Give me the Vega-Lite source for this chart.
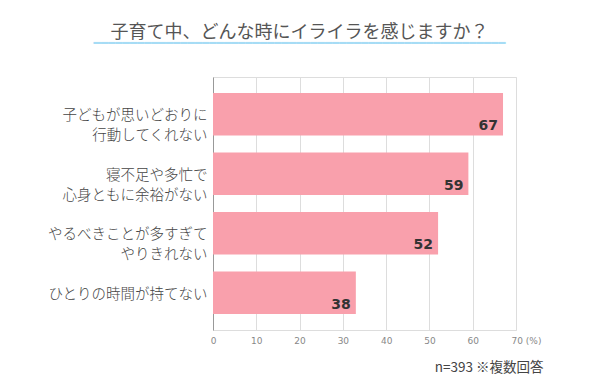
{
  "$schema": "https://vega.github.io/schema/vega-lite/v6.json",
  "width": 303,
  "height": 253,
  "autosize": "none",
  "padding": {"left": 213, "top": 77, "right": 84, "bottom": 56},
  "background": "white",
  "title": {
    "text": "子育て中、どんな時にイライラを感じますか？",
    "subtitle": "━━━━━━━━━━━━━━━━━━━━━━━━━━━━━━━━━━━━━━━━━━━━━━━━━━━━━━━━━",
    "anchor": "middle",
    "dx": -65,
    "offset": 28,
    "font": "Noto Sans CJK JP",
    "fontSize": 18,
    "fontWeight": "normal",
    "color": "#555555",
    "subtitleFont": "DejaVu Sans Mono",
    "subtitleFontSize": 12,
    "subtitleColor": "#a6dcf5",
    "subtitlePadding": -4
  },
  "data": {
    "values": [
      {"item": "子どもが思いどおりに|行動してくれない", "bar": 67, "percent": 67},
      {"item": "寝不足や多忙で|心身ともに余裕がない", "bar": 59, "percent": 59},
      {"item": "やるべきことが多すぎて|やりきれない", "bar": 52, "percent": 52},
      {"item": "ひとりの時間が持てない", "bar": 33, "percent": 38}
    ]
  },
  "encoding": {
    "y": {
      "field": "item",
      "type": "nominal",
      "sort": null,
      "scale": {"paddingInner": 0.286, "paddingOuter": 0.27},
      "axis": {
        "title": null,
        "domain": true,
        "domainColor": "#999999",
        "ticks": false,
        "labelFont": "Noto Sans CJK JP",
        "labelFontSize": 14.5,
        "labelFontWeight": 300,
        "labelColor": "#444444",
        "labelPadding": 6,
        "labelLineHeight": 20,
        "labelOffset": 2,
        "labelLimit": 300,
        "labelExpr": "split(datum.label, '|')"
      }
    }
  },
  "layer": [
    {
      "mark": {"type": "bar", "color": "#f9a0ac"},
      "encoding": {
        "x": {
          "field": "bar",
          "type": "quantitative",
          "scale": {"domain": [0, 70], "nice": false},
          "axis": {
            "values": [0, 10, 20, 30, 40, 50, 60, 70],
            "grid": true,
            "gridColor": "#dddddd",
            "domain": false,
            "ticks": false,
            "labelFont": "DejaVu Sans",
            "labelFontSize": 9,
            "labelColor": "#888888",
            "labelPadding": 6,
            "labelExpr": "datum.value == 70 ? '70 (%)' : datum.label",
            "labelAlign": {"condition": {"test": "datum.value == 70", "value": "left"}, "value": "center"},
            "labelOffset": {"condition": {"test": "datum.value == 70", "value": -5}, "value": 0},
            "title": "n=393 ※複数回答",
            "titleFont": "Noto Sans CJK JP",
            "titleFontSize": 13.5,
            "titleFontWeight": "normal",
            "titleColor": "#444444",
            "titleAlign": "right",
            "titleBaseline": "alphabetic",
            "titleX": 330,
            "titleY": 41
          }
        }
      }
    },
    {
      "mark": {
        "type": "text",
        "align": "right",
        "baseline": "alphabetic",
        "dx": -5,
        "dy": 16,
        "font": "DejaVu Sans",
        "fontWeight": "bold",
        "fontSize": 14,
        "color": "#333333"
      },
      "encoding": {
        "x": {"field": "bar", "type": "quantitative"},
        "text": {"field": "percent"}
      }
    }
  ]
}
